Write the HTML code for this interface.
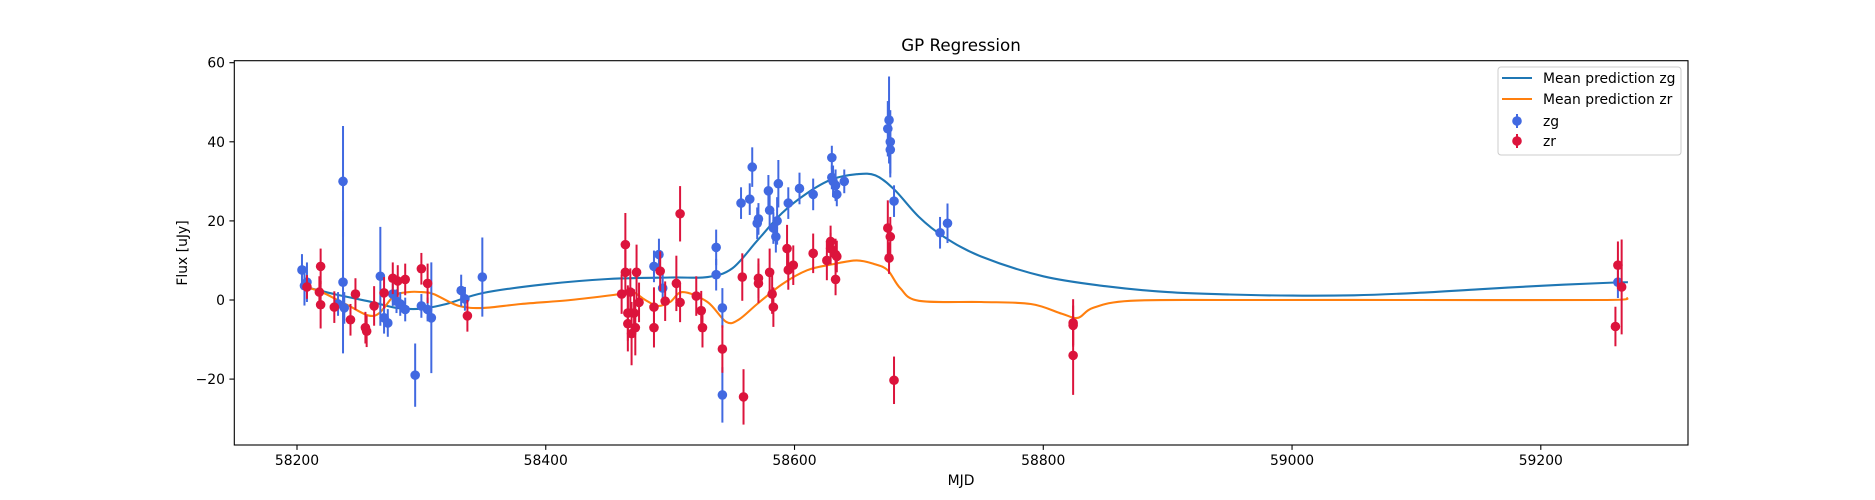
<!DOCTYPE html>
<html><head><meta charset="utf-8"><style>
html,body{margin:0;padding:0;background:#fff;}
svg{display:block;font-family:"DejaVu Sans","Liberation Sans",sans-serif;}
</style></head><body>
<svg id="chart" width="1875" height="500" xmlns="http://www.w3.org/2000/svg">
<g id="curves"></g>
<g id="pts"></g>
<rect x="234.3" y="60.7" width="1453.7" height="384.3" fill="none" stroke="#000" stroke-width="1.1"/>
<g id="axes"></g>
<text x="961" y="51" font-size="16.7" text-anchor="middle">GP Regression</text>
<text x="961" y="485" font-size="13.9" text-anchor="middle">MJD</text>
<text x="0" y="0" font-size="13.9" text-anchor="middle" transform="translate(187,253) rotate(-90)">Flux [uJy]</text>
<g>
<rect x="1498" y="67" width="183" height="88" rx="3" fill="#fff" fill-opacity="0.8" stroke="#cccccc"/>
<g><line x1="1502" y1="78" x2="1532" y2="78" stroke="#1f77b4" stroke-width="2.1"/><text x="1543" y="83" font-size="13.9">Mean prediction zg</text></g>
<g><line x1="1502" y1="99" x2="1532" y2="99" stroke="#ff7f0e" stroke-width="2.1"/><text x="1543" y="104" font-size="13.9">Mean prediction zr</text></g>
<g><line x1="1517" y1="114" x2="1517" y2="128" stroke="#4169e1" stroke-width="2"/><circle cx="1517" cy="121" r="4.8" fill="#4169e1"/><text x="1543" y="126" font-size="13.9">zg</text></g>
<g><line x1="1517" y1="134" x2="1517" y2="148" stroke="#dc143c" stroke-width="2"/><circle cx="1517" cy="141" r="4.8" fill="#dc143c"/><text x="1543" y="146" font-size="13.9">zr</text></g>
</g>
</svg>
<script>
const xTicks=[58200,58400,58600,58800,59000,59200];
const yTicks=[-20,0,20,40,60];
const zgMjd=[58204,58206,58208,58233,58237,58237,58238,58267,58270,58273,58277,58280,58283,58287,58295,58300,58305,58308,58332,58335,58349,58487,58491,58494,58537,58537,58542,58542,58557,58564,58566,58570,58571,58579,58580,58583,58585,58586,58587,58595,58604,58615,58630,58630,58631,58633,58634,58640,58675,58676,58677,58677,58680,58717,58723,59262];
const zgFlux=[7.6,3.6,4.5,-1,30,4.5,-2,6,-4.5,-5.8,1.5,-0.3,-1,-2.4,-19,-1.5,-2.4,-4.5,2.4,0.3,5.8,8.5,11.5,3,13.3,6.4,-2,-24,24.5,25.5,33.6,19.4,20.5,27.6,22.7,18.2,16,20,29.4,24.5,28.2,26.7,36,31,30,29,26.7,30,43.3,45.5,40,38,25,17,19.4,4.5];
const zgErr=[4,5,5,3,14,18,4,12.5,4,3.5,3,3,3,3,8,3,3,14,4,3,10,4,4,4,4.5,4,5,7,4,4,5,4,4,4,4,4,4,6,6,4,4,4,3,3,4,4,3,3,7,11,8,7,4,4,5,4];
const zrMjd=[58208,58218,58219,58219,58230,58243,58247,58255,58256,58262,58270,58277,58281,58287,58300,58305,58337,58461,58464,58464,58466,58466,58468,58469,58471,58472,58473,58475,58487,58487,58492,58496,58505,58508,58508,58521,58525,58526,58542,58558,58559,58571,58571,58580,58582,58583,58594,58595,58599,58615,58626,58629,58629,58633,58633,58634,58675,58676,58677,58680,58824,58824,58824,59260,59262,59265];
const zrFlux=[3.3,2,8.5,-1.2,-1.8,-5,1.5,-7,-7.9,-1.5,1.8,5.5,4.8,5.2,7.9,4.2,-4,1.5,14,7,-3.3,-6,2,-8.5,-3.3,-7,7,-0.6,-7,-1.8,7.3,-0.3,4.2,21.8,-0.6,1,-2.7,-7,-12.4,5.8,-24.5,4.2,5.5,7,1.5,-1.8,13,7.6,8.8,11.8,10,14.8,13,11.5,5.2,11,18.2,10.6,16,-20.3,-5.8,-6.4,-14,-6.7,8.8,3.3];
const zrErr=[3,4,4.5,6,4,4,4,4,4,5,4,4,4,4,4,5,4,5,8,6,7,7,6,8,6,7,7,5,5,5,5,5,7,7,5,5,5,5,6,6,7,5,5,6,5,5,6,5,5,5,5,4,4,4,4,4,7,4,5,6,6,5,10,5,6,12];
const zgMeanX=[58204,58230,58260,58280,58300,58320,58350,58400,58450,58500,58530,58550,58570,58590,58610,58630,58650,58665,58680,58700,58720,58750,58800,58850,58900,58950,59000,59050,59100,59150,59200,59250,59270];
const zgMeanY=[3.5,1.5,-0.5,-2,-2.2,-1,1.8,4,5.3,5.7,5.8,8,15,22,27,30.5,31.8,31.5,28,21,16,11,6,3.5,2,1.4,1.1,1.2,1.8,2.7,3.6,4.3,4.5];
const zrMeanX=[58204,58220,58240,58262,58278,58290,58300,58310,58330,58350,58380,58420,58460,58470,58480,58490,58500,58510,58530,58545,58555,58570,58590,58610,58630,58650,58665,58675,58685,58700,58750,58790,58815,58828,58840,58870,58950,59100,59250,59270];
const zrMeanY=[3.5,2,-1.2,-4,1,2,2,1.5,-1.5,-2,-1,0,1.5,2,0,-1.5,-0.5,2,-0.5,-5.5,-5,-1,4,7.5,9,10,9,7.5,3,-0.2,-0.5,-1,-3.5,-4.5,-2,-0.2,0,0,0,0.5];

const NS='http://www.w3.org/2000/svg';
function X(m){return 297+(m-58200)*1.2438;}
function Y(f){return 300-f*3.955;}
function mk(tag,attrs,parent){const e=document.createElementNS(NS,tag);for(const k in attrs)e.setAttribute(k,attrs[k]);parent.appendChild(e);return e;}
function smooth(xs,ys){
  const p=xs.map((x,i)=>[X(x),Y(ys[i])]);
  let d='M'+p[0][0].toFixed(1)+','+p[0][1].toFixed(1);
  for(let i=0;i<p.length-1;i++){
    const p0=p[Math.max(0,i-1)],p1=p[i],p2=p[i+1],p3=p[Math.min(p.length-1,i+2)];
    const c1=[p1[0]+(p2[0]-p0[0])/6,p1[1]+(p2[1]-p0[1])/6];
    const c2=[p2[0]-(p3[0]-p1[0])/6,p2[1]-(p3[1]-p1[1])/6];
    d+='C'+c1.map(v=>v.toFixed(1))+' '+c2.map(v=>v.toFixed(1))+' '+p2.map(v=>v.toFixed(1));
  }
  return d;
}
const curves=document.getElementById('curves');
const cg=mk('path',{d:smooth(zgMeanX,zgMeanY),fill:'none',stroke:'#1f77b4','stroke-width':2.1},curves);


const cr=mk('path',{d:smooth(zrMeanX,zrMeanY),fill:'none',stroke:'#ff7f0e','stroke-width':2.1},curves);



const pts=document.getElementById('pts');
function drawSeries(ms,fs,es,color,name){
  const g=mk('g',{},pts);
  
  
  for(let i=0;i<ms.length;i++){
    const l=mk('line',{x1:X(ms[i]),x2:X(ms[i]),y1:Y(fs[i]-es[i]),y2:Y(fs[i]+es[i]),stroke:color,'stroke-width':2},g);
    
    
  }
  for(let i=0;i<ms.length;i++){
    const c=mk('circle',{cx:X(ms[i]),cy:Y(fs[i]),r:4.8,fill:color},g);
    
    
  }
}
drawSeries(zgMjd,zgFlux,zgErr,'#4169e1','zg');
drawSeries(zrMjd,zrFlux,zrErr,'#dc143c','zr');

const axes=document.getElementById('axes');
xTicks.forEach(t=>{
  const x=X(t);
  const l=mk('line',{x1:x,x2:x,y1:445,y2:449.9,stroke:'#000','stroke-width':1.1},axes);
  
  
  const tx=mk('text',{x:x,y:465,'font-size':13.9,'text-anchor':'middle'},axes);
  tx.textContent=t;
  
  
});
yTicks.forEach(t=>{
  const y=Y(t);
  const l=mk('line',{x1:229.4,x2:234.3,y1:y,y2:y,stroke:'#000','stroke-width':1.1},axes);
  
  
  const tx=mk('text',{x:225,y:y+5,'font-size':13.9,'text-anchor':'end'},axes);
  tx.textContent=t<0?'\u2212'+(-t):String(t);
  
  
});
</script>
</body></html>
